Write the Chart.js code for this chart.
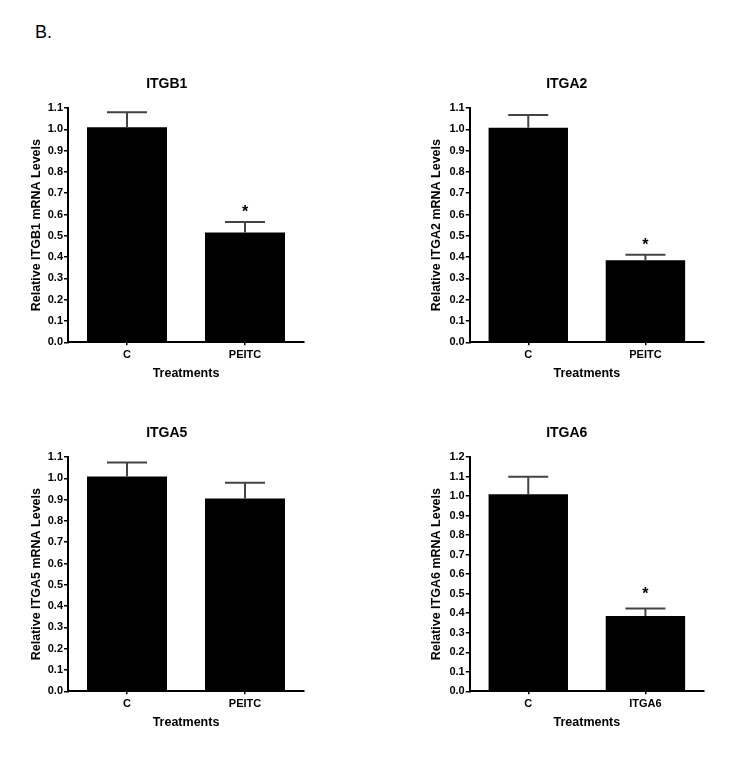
<!DOCTYPE html>
<html><head><meta charset="utf-8">
<script src="https://cdn.jsdelivr.net/npm/chart.js@4"></script>
<style>
html,body{margin:0;padding:0;background:#fff;width:756px;height:758px;overflow:hidden;}
canvas{position:absolute;}
#lbl{position:absolute;left:35px;top:23px;font:18px/18px "Liberation Sans",Arial,sans-serif;color:#000;}
</style></head><body>
<div id="lbl">B.</div>
<canvas id="c1" width="378" height="345" style="left:0px;top:50px"></canvas>
<canvas id="c2" width="378" height="345" style="left:378px;top:50px"></canvas>
<canvas id="c3" width="378" height="345" style="left:0px;top:399px"></canvas>
<canvas id="c4" width="378" height="345" style="left:378px;top:399px"></canvas>
<script>
// ---- data ----
const panelTitles = ["ITGB1", "ITGA2", "ITGA5", "ITGA6"];
const categoriesPEITC = ["C", "PEITC"];
const categoriesITGA6 = ["C", "ITGA6"];
const itgb1Means = [1.01, 0.515];
const itgb1Errors = [0.07, 0.05];
const itga2Means = [1.007, 0.385];
const itga2Errors = [0.06, 0.026];
const itga5Means = [1.009, 0.905];
const itga5Errors = [0.065, 0.074];
const itga6Means = [1.009, 0.386];
const itga6Errors = [0.09, 0.038];
const significant = [[false, true], [false, true], [false, false], [false, true]];
const yMaxes = [1.1, 1.1, 1.1, 1.2];
const yStep = 0.1;
const xAxisTitle = "Treatments";

const panels = [
  {id: "c1", cats: categoriesPEITC, means: itgb1Means, errs: itgb1Errors},
  {id: "c2", cats: categoriesPEITC, means: itga2Means, errs: itga2Errors},
  {id: "c3", cats: categoriesPEITC, means: itga5Means, errs: itga5Errors},
  {id: "c4", cats: categoriesITGA6, means: itga6Means, errs: itga6Errors}
];
// ---- layout / style ----
const layoutStyle = [
  {padL: 29.5, yW: 38.5, padR: 74, starGap: 12.4},
  {padL: 51.5, yW: 40.2, padR: 52, starGap: 11.7},
  {padL: 29.5, yW: 38.5, padR: 74, starGap: 12},
  {padL: 51.5, yW: 40.2, padR: 52, starGap: 16.6}
];
Chart.defaults.font.family = "'Liberation Sans', Arial, Helvetica, sans-serif";
Chart.defaults.color = "#000";

const errorBarPlugin = {
  id: "errorBars",
  afterDatasetsDraw(chart, args, opts) {
    const ctx = chart.ctx;
    const meta = chart.getDatasetMeta(0);
    const ys = chart.scales.y;
    ctx.save();
    ctx.strokeStyle = "#444";
    ctx.lineWidth = 2;
    opts.means.forEach((m, i) => {
      const x = meta.data[i].x;
      const yb = ys.getPixelForValue(m);
      const yt = ys.getPixelForValue(m + opts.errs[i]);
      ctx.beginPath();
      ctx.moveTo(x, yb); ctx.lineTo(x, yt);
      ctx.moveTo(x - 20, yt); ctx.lineTo(x + 20, yt);
      ctx.stroke();
      if (opts.sig[i]) {
        ctx.fillStyle = "#000";
        ctx.font = "bold 16px 'Liberation Sans', Arial, sans-serif";
        ctx.textAlign = "center";
        ctx.textBaseline = "middle";
        ctx.fillText("*", x, yt - opts.starGap + 3);
      }
    });
    ctx.restore();
  }
};

panels.forEach((p, k) => {
  const L = layoutStyle[k];
  new Chart(document.getElementById(p.id), {
    type: "bar",
    data: {
      labels: p.cats,
      datasets: [{data: p.means, backgroundColor: "#000", borderWidth: 0,
                  barPercentage: 0.678, categoryPercentage: 1.0}]
    },
    plugins: [errorBarPlugin],
    options: {
      responsive: false,
      animation: false,
      devicePixelRatio: 1,
      layout: {padding: {left: L.padL, right: L.padR, top: 0, bottom: 0}},
      plugins: {
        legend: {display: false},
        tooltip: {enabled: false},
        title: {display: true, text: panelTitles[k], color: "#000",
                font: {size: 14, weight: "bold", lineHeight: 1.2},
                padding: {top: 25.6, bottom: 15.6}},
        errorBars: {means: p.means, errs: p.errs, sig: significant[k], starGap: L.starGap}
      },
      scales: {
        x: {
          grid: {display: true, drawOnChartArea: false, drawTicks: true, tickLength: 3,
                 offset: false, color: "#000", lineWidth: 1.5},
          border: {display: true, color: "#000", width: 2},
          ticks: {padding: 3, color: "#000", font: {size: 11, weight: "bold"}},
          title: {display: true, text: xAxisTitle, color: "#000",
                  font: {size: 12.5, weight: "bold", lineHeight: 1.2},
                  padding: {top: 0, bottom: 14}},
          afterFit(s) { s.height = 52.7; }
        },
        y: {
          min: 0, max: yMaxes[k],
          grid: {display: true, drawOnChartArea: false, drawTicks: true, tickLength: 4,
                 color: "#000", lineWidth: 1.5},
          border: {display: true, color: "#000", width: 2},
          ticks: {stepSize: yStep, padding: 1, color: "#000",
                  font: {size: 11, weight: "bold"},
                  callback: v => Number(v).toFixed(1)},
          title: {display: true, text: "Relative " + panelTitles[k] + " mRNA Levels", color: "#000",
                  font: {size: 12.5, weight: "bold", lineHeight: 1.2},
                  padding: {top: 0, bottom: 0}},
          afterFit(s) { s.width = L.yW; }
        }
      }
    }
  });
});
</script>
</body></html>
